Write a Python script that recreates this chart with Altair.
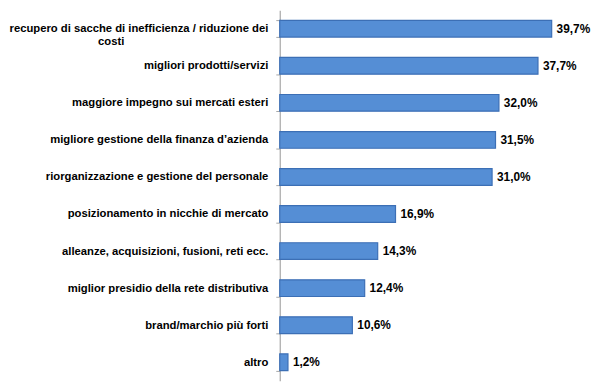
import altair as alt
import pandas as pd

BLANK = "\u2800"
categories = [
    ["recupero di sacche di inefficienza / riduzione dei", "costi" + BLANK * 18],
    "migliori prodotti/servizi",
    "maggiore impegno sui mercati esteri",
    "migliore gestione della finanza d\u2019azienda",
    "riorganizzazione e gestione del personale",
    "posizionamento in nicchie di mercato",
    "alleanze, acquisizioni, fusioni, reti ecc.",
    "miglior presidio della rete distributiva",
    "brand/marchio più forti",
    "altro",
]
keys = [f"c{i}" for i in range(len(categories))]
values = [39.7, 37.7, 32.0, 31.5, 31.0, 16.9, 14.3, 12.4, 10.6, 1.2]
labels = ["39,7%", "37,7%", "32,0%", "31,5%", "31,0%", "16,9%", "14,3%", "12,4%", "10,6%", "1,2%"]

df = pd.DataFrame({"key": keys, "value": values, "label": labels})

label_map = {k: c for k, c in zip(keys, categories)}
label_expr = "{" + ",".join(
    f"'{k}': " + (
        "[" + ",".join("'" + s.replace("'", "\\'") + "'" for s in c) + "]"
        if isinstance(c, list) else "'" + c.replace("'", "\\'") + "'"
    )
    for k, c in label_map.items()
) + "}[datum.value]"

FONT = "Liberation Sans"

y = alt.Y(
    "key:N",
    sort=keys,
    scale=alt.Scale(paddingInner=0.55, paddingOuter=0.275),
    axis=alt.Axis(
        title=None,
        labelExpr=label_expr,
        labelFont=FONT,
        labelFontSize=11.4,
        labelFontWeight="bold",
        labelColor="#000000",
        labelPadding=8,
        labelLimit=400,
        labelLineHeight=13,
        tickBand="extent",
        tickSize=4,
        tickColor="#a6a6a6",
        domainColor="#a6a6a6",
        domainWidth=1.2,
    ),
)
x = alt.X(
    "value:Q",
    scale=alt.Scale(domain=[0, 44], nice=False),
    axis=None,
)

bars = alt.Chart(df).mark_bar(
    color="#558ED5", stroke="#3C6FB5", strokeWidth=1.2
).encode(x=x, y=y)

text = alt.Chart(df).mark_text(
    align="left", baseline="middle", dx=5, font=FONT, fontSize=12,
    fontWeight="bold", color="#000000"
).encode(x=x, y=y, text="label:N")

chart = (bars + text).properties(
    width=305, height=375,
    autosize=alt.AutoSizeParams(type="none"),
    padding={"left": 275, "top": 0, "right": 11, "bottom": 0},
).configure_view(stroke=None)

chart.save("out.html", embed_options={"renderer": "svg", "actions": False})
